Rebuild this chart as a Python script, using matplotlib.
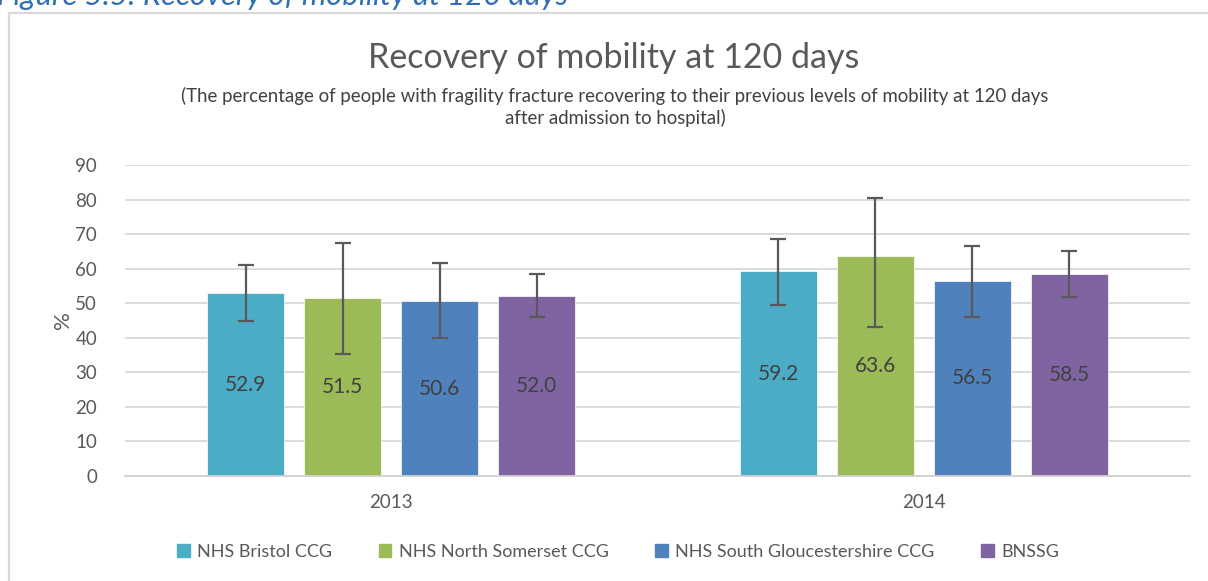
import numpy as np
import matplotlib
matplotlib.use("Agg")
import matplotlib.pyplot as plt
import matplotlib.lines as mlines
import matplotlib.patches as mpatches

plt.rcParams["font.family"] = ["Lato", "DejaVu Sans"]

years = ["2013", "2014"]
series = ["NHS Bristol CCG", "NHS North Somerset CCG",
          "NHS South Gloucestershire CCG", "BNSSG"]
values = {
    "NHS Bristol CCG":               [52.9, 59.2],
    "NHS North Somerset CCG":        [51.5, 63.6],
    "NHS South Gloucestershire CCG": [50.6, 56.5],
    "BNSSG":                         [52.0, 58.5],
}
ci_low = {
    "NHS Bristol CCG":               [44.8, 49.4],
    "NHS North Somerset CCG":        [35.4, 43.2],
    "NHS South Gloucestershire CCG": [39.8, 46.1],
    "BNSSG":                         [46.0, 51.9],
}
ci_high = {
    "NHS Bristol CCG":               [61.1, 68.5],
    "NHS North Somerset CCG":        [67.5, 80.4],
    "NHS South Gloucestershire CCG": [61.6, 66.5],
    "BNSSG":                         [58.4, 65.2],
}
colors = ["#4BACC6", "#9BBB59", "#4F81BD", "#8064A2"]
yticks = list(range(0, 91, 10))

W, H = 1208, 581
fig = plt.figure(figsize=(W / 100, H / 100), dpi=100)
fig.patch.set_facecolor("white")

# caption above the chart frame (partly cut by the page edge)
fig.text(-3 / W, 1 - 5 / H, "Figure 5.5: Recovery of mobility at 120 days",
         fontsize=22.3, style="italic", color="#2F6EB5",
         ha="left", va="baseline")

# chart frame
frame_col = "#D9D9D9"
fig.add_artist(mlines.Line2D([9 / W, 1.0], [1 - 13 / H] * 2, color=frame_col,
                             lw=1.6, transform=fig.transFigure))
fig.add_artist(mlines.Line2D([9 / W] * 2, [0, 1 - 13 / H], color=frame_col,
                             lw=1.6, transform=fig.transFigure))

fig.text(614 / W, 1 - 58 / H, "Recovery of mobility at 120 days",
         fontsize=24.5, color="#595959", ha="center", va="center")
fig.text(615 / W, 1 - 107 / H,
         "(The percentage of people with fragility fracture recovering to their previous levels of mobility at 120 days\n"
         "after admission to hospital)",
         fontsize=13.4, color="#404040", ha="center", va="center",
         linespacing=1.3)

ax = fig.add_axes([125 / W, 1 - 476 / H, (1190 - 125) / W, (476 - 165) / H])
x = np.arange(len(years))
step = 0.182
width = 0.145
for i, (name, col) in enumerate(zip(series, colors)):
    v = np.array(values[name])
    lo = v - np.array(ci_low[name])
    hi = np.array(ci_high[name]) - v
    xi = x + (i - 1.5) * step
    ax.bar(xi, v, width=width, color=col, edgecolor="white", lw=0.5,
           zorder=2, label=name)
    ax.errorbar(xi, v, yerr=[lo, hi], fmt="none", ecolor="#595959",
                elinewidth=1.6, capsize=6, capthick=1.6, zorder=3)
    for xv, yv in zip(xi, v):
        ax.text(xv, yv / 2, f"{yv:.1f}", ha="center", va="center",
                fontsize=15, color="#404040", zorder=4)

ax.set_xlim(-0.5, 1.5)
ax.set_ylim(0, 90)
ax.set_yticks(yticks)
ax.set_xticks(x)
ax.set_xticklabels(years)
ax.yaxis.grid(True, color=frame_col, lw=1.3, zorder=0)
ax.set_axisbelow(True)
for s in ["top", "right", "left"]:
    ax.spines[s].set_visible(False)
ax.spines["bottom"].set_color("#D0D0D0")
ax.spines["bottom"].set_linewidth(1.3)
ax.tick_params(axis="both", length=0, labelsize=13.5, labelcolor="#595959")
ax.tick_params(axis="y", pad=20)
ax.tick_params(axis="x", pad=13)
ax.set_ylabel("%", fontsize=16, color="#595959", labelpad=2)

handles = [mpatches.Patch(color=c, label=n) for n, c in zip(series, colors)]
fig.legend(handles=handles, loc="center", bbox_to_anchor=(618 / W, 1 - 552 / H),
           ncol=4, frameon=False, fontsize=13, labelcolor="#595959",
           handlelength=0.7, handleheight=0.7, handletextpad=0.4,
           columnspacing=2.6)

fig.savefig("out.png", dpi=100)
